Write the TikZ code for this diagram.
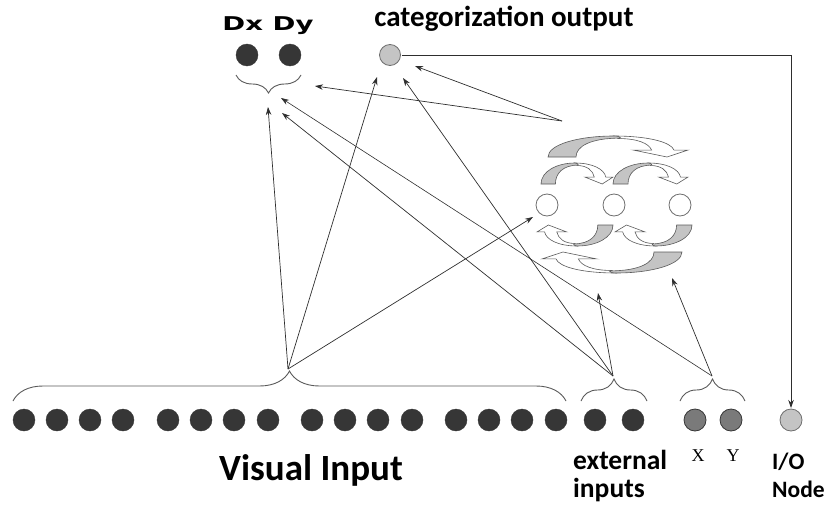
\documentclass[tikz,border=0pt]{standalone}
\usepackage{fontspec}
\setmainfont{Carlito}
\newfontfamily\heavyfont{DejaVu Sans}
\newfontfamily\letterfont{Liberation Serif}
\usetikzlibrary{arrows.meta,decorations.pathreplacing}
\definecolor{dotdark}{HTML}{363636}
\definecolor{dotmid}{HTML}{7A7A7A}
\definecolor{dotlight}{HTML}{C4C4C4}
\definecolor{rimgray}{HTML}{6E6E6E}
\definecolor{bandgray}{HTML}{C4C4C4}
\definecolor{bandline}{HTML}{5A5A5A}
\definecolor{wire}{HTML}{2E2E2E}
\tikzset{
  unit/.style={circle, inner sep=0pt, minimum size=22pt},
  darkunit/.style={unit, fill=dotdark, draw=dotdark},
  xyunit/.style={unit, fill=dotmid, draw=dotdark, line width=0.8pt},
  lightunit/.style={unit, fill=dotlight, draw=rimgray, line width=0.8pt},
  recunit/.style={unit, fill=white, draw=rimgray, line width=0.8pt},
  link/.style={draw=wire, line width=0.7pt, -{Stealth[length=8pt,width=5.5pt]}},
  bracket/.style={draw=bandline, line width=0.9pt, decorate},
  label/.style={font=\bfseries, text=black, inner sep=0pt},
  bendarrow/.pic={
    % thin white band ending in the arrow head
    \path[draw=bandline, fill=white, line width=0.6pt]
      (0.47,0) .. controls (0.72,0) and (0.88,0.3) .. (0.9,0.67)
      -- (1,0.67) -- (0.85,1) -- (0.61,0.67) -- (0.74,0.67)
      .. controls (0.72,0.35) and (0.64,0.12) .. (0.5,0.12) -- cycle;
    % shaded tail rising to the crest
    \path[draw=bandline, fill=bandgray, line width=0.6pt]
      (0,1) .. controls (0,0.4) and (0.22,0) .. (0.47,0)
      .. controls (0.5,0) and (0.52,0.05) .. (0.52,0.1)
      .. controls (0.3,0.1) and (0.2,0.5) .. (0.2,1) -- cycle;
  }
}
\begin{document}
\begin{tikzpicture}[x=1pt, y=-1pt]
\useasboundingbox (0,0) rectangle (827,506);

% output units
\node[darkunit] (dx) at (247,55) {};
\node[darkunit] (dy) at (290,55) {};
\node[lightunit, minimum size=21pt] (cat) at (390,55) {};
\node[label, font=\heavyfont\bfseries\fontsize{19}{19}\selectfont, xscale=1.45, transform shape] (dxdylab) at (268,26) {Dx Dy};
\node[label, font=\bfseries\fontsize{29}{29}\selectfont] (catlab) at (504,19) {categorization output};

% recurrent layer
\node[recunit] (r1) at (547,205) {};
\node[recunit] (r2) at (614,205) {};
\node[recunit] (r3) at (680,205) {};
\pic[shift={(548,136)}, xscale=140, yscale=21] {bendarrow};
\pic[shift={(541,163)}, xscale=72, yscale=21] {bendarrow};
\pic[shift={(613,163)}, xscale=75, yscale=21] {bendarrow};
\pic[shift={(613,246)}, xscale=-76, yscale=-21] {bendarrow};
\pic[shift={(692,246)}, xscale=-77, yscale=-21] {bendarrow};
\pic[shift={(682,273)}, xscale=-140, yscale=-21] {bendarrow};

% input row
\foreach \i/\x in {1/24,2/57,3/90,4/123,5/168,6/201,7/234,8/268,9/312,10/345,11/378,12/412,13/456,14/489,15/522,16/556}
  \node[darkunit] (v\i) at (\x,420) {};
\node[darkunit] (e1) at (595,420) {};
\node[darkunit] (e2) at (633,420) {};
\node[xyunit] (px) at (695,420) {};
\node[xyunit] (py) at (731,420) {};
\node[lightunit] (io) at (791,420) {};

% labels of the input row
\node[label, anchor=base, font=\bfseries\fontsize{37}{37}\selectfont] (vislab) at (311,480) {Visual Input};
\node[label, anchor=base west, font=\bfseries\fontsize{27.5}{27.5}\selectfont] (extlab) at (573,469) {external};
\node[label, anchor=base west, font=\bfseries\fontsize{27.5}{27.5}\selectfont] (extlab2) at (573,497) {inputs};
\node[inner sep=0pt, font=\letterfont\fontsize{18}{18}\selectfont] (xlab) at (698,456) {X};
\node[inner sep=0pt, font=\letterfont\fontsize{18}{18}\selectfont] (ylab) at (733,456) {Y};
\node[label, anchor=base west, font=\bfseries\fontsize{23.5}{23.5}\selectfont] (iolab) at (772,469) {I/O};
\node[label, anchor=base west, font=\bfseries\fontsize{23.5}{23.5}\selectfont] (iolab2) at (772,497) {Node};

% braces
\draw[bracket, decoration={brace, amplitude=30pt}] (13,401) -- (566,401);
\draw[bracket, decoration={brace, amplitude=22pt}] (581,401) -- (647,401);
\draw[bracket, decoration={brace, amplitude=22pt}] (680,401) -- (745,401);
\draw[bracket, decoration={brace, amplitude=18pt}] (301,75) -- (236,75);

% brace tips and arrow targets
\coordinate (vistip) at (288,369);
\coordinate (exttip) at (613,376);
\coordinate (xytip) at (712,376);
\coordinate (dxdyA) at (268,107);
\coordinate (dxdyB) at (282,113);
\coordinate (dxdyC) at (281,98);
\coordinate (dxdyD) at (315,86);
\coordinate (catA) at (377,77);
\coordinate (catB) at (403,78);
\coordinate (catC) at (415,66);
\coordinate (recA) at (533,217);
\coordinate (recB) at (598,293);
\coordinate (recC) at (672,278);
\coordinate (recout) at (562,121);

% connections
\draw[link] (vistip) -- (dxdyA);
\draw[link] (vistip) -- (catA);
\draw[link] (vistip) -- (recA);
\draw[link] (exttip) -- (dxdyB);
\draw[link] (exttip) -- (catB);
\draw[link] (exttip) -- (recB);
\draw[link, line width=0.6pt] (xytip) -- (dxdyC);
\draw[link] (xytip) -- (recC);
\draw[link] (recout) -- (catC);
\draw[link] (recout) -- (dxdyD);
\draw[link, shorten <=1pt, shorten >=12pt] (cat.east) -| (io.center);
\end{tikzpicture}
\end{document}
